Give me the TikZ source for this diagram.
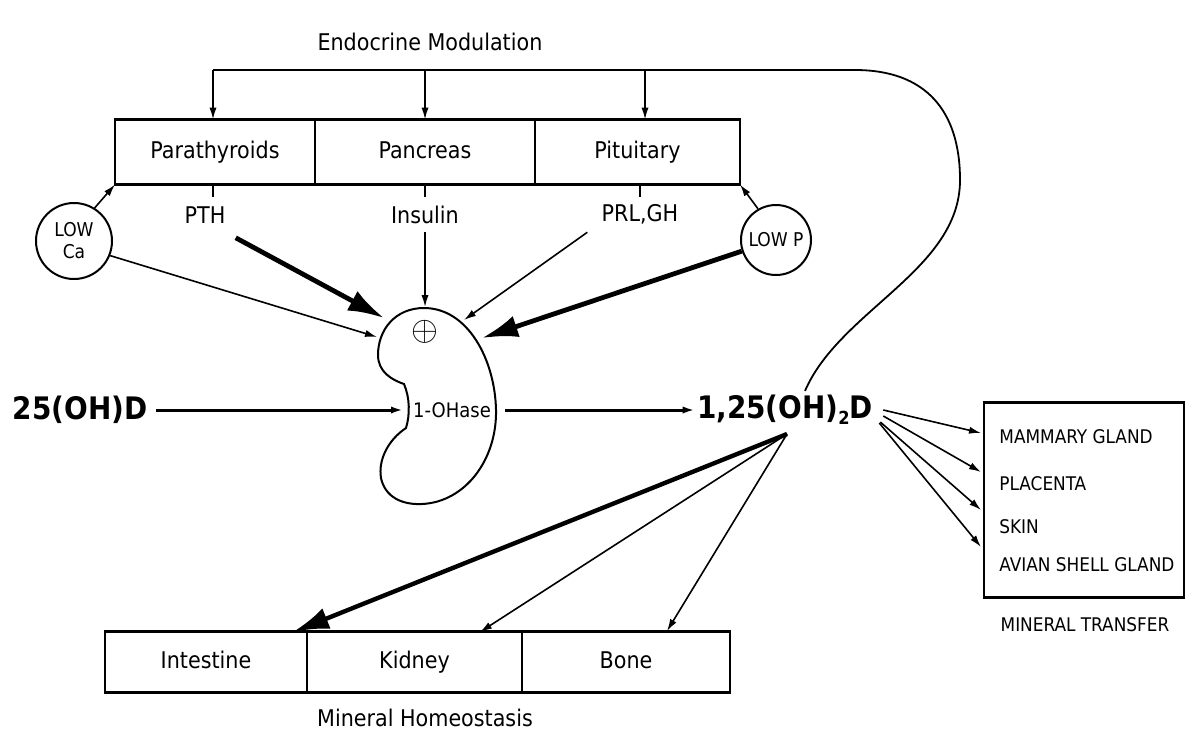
\documentclass[tikz,border=0pt]{standalone}
\usepackage{fontspec}
\setmainfont{DejaVu Sans Condensed}
\usetikzlibrary{positioning,arrows.meta}
\begin{document}
\begin{tikzpicture}[
		x=0.5pt, y=-0.5pt,
		box/.style={draw, rectangle, line width=1.4pt, outer sep=0pt, inner sep=0pt, minimum height=32.5pt, text height=8.5pt, text depth=2.5pt, font=\fontsize{11.5}{13}\selectfont},
		tag/.style={inner sep=1pt, font=\fontsize{11.5}{13}\selectfont},
		caps/.style={inner sep=1pt, anchor=west, font=\fontsize{9.4}{11}\selectfont},
		ring/.style={draw, circle, line width=1pt, inner sep=0pt, minimum size=38pt, align=center, font=\fontsize{9.5}{11}\selectfont},
		big/.style={inner sep=1pt, font=\fontsize{15.5}{18}\selectfont\bfseries},
		arrow/.style={-{Latex[length=6pt,width=3.6pt]}, line width=0.8pt},
		heavy/.style={-{Latex[length=18pt,width=11pt]}, line width=2.4pt}
		]
		\useasboundingbox (0,0) rectangle (1186,734);
		
		% endocrine row
		\node (title) [tag] at (430,42) {Endocrine Modulation};
		\node (para) [box, minimum width=100pt, anchor=west] at (115,152) {Parathyroids};
		\node (panc) [box, minimum width=110pt, right=0pt of para] {Pancreas};
		\node (pit) [box, minimum width=102.5pt, right=0pt of panc] {Pituitary};
		\node (pth) [tag] at (205,215) {PTH};
		\node (ins) [tag] at (425,215) {Insulin};
		\node (prl) [tag] at (640,214) {PRL,GH};
		\node (lowca) [ring] at (74,241) {LOW\\Ca};
		\node (lowp) [ring, minimum size=35pt] at (776,240) {LOW P};
		
		% enzyme
		\draw[line width=1pt] (424,308) .. controls (395,308) and (378,330) .. (378,355)
			.. controls (378,372) and (392,380) .. (404,384)
			.. controls (410,398) and (410,415) .. (406,428)
			.. controls (388,440) and (378,460) .. (381,478)
			.. controls (385,497) and (402,505) .. (422,504)
			.. controls (465,502) and (497,460) .. (496,410)
			.. controls (495,360) and (468,308) .. (424,308) -- cycle;
		\node (plus) [inner sep=0pt, font=\fontsize{17}{17}\selectfont] at (425,332) {$\oplus$};
		\node (ohase) [inner sep=1pt, font=\fontsize{10}{12}\selectfont] at (452,410) {1-OHase};
		\coordinate (eTop) at (425,307);
		\coordinate (eCa) at (377,337);
		\coordinate (ePth) at (384,318);
		\coordinate (ePrl) at (464,320);
		\coordinate (eP) at (482,338);
		\coordinate (eIn) at (403,410);
		\coordinate (eOut) at (505,410);
		
		\node (dpre) [big] at (80,410) {25(OH)D};
		\node (dhd) [big] at (785,410) {1,25(OH)\raisebox{-0.35ex}{\fontsize{9}{9}\selectfont 2}D};
		
		% mineral transfer
		\node (mt) [draw, rectangle, line width=1.2pt, minimum width=100pt, minimum height=97.5pt] at (1084,500) {};
		\node (mam) [caps] at (997,437) {MAMMARY GLAND};
		\node (pla) [caps] at (997,484) {PLACENTA};
		\node (skin) [caps] at (997,527) {SKIN};
		\node (avian) [caps] at (997,565) {AVIAN SHELL GLAND};
		\node (trans) [caps, anchor=center] at (1085,625) {MINERAL TRANSFER};
		\coordinate (tA) at (981,433);
		\coordinate (tB) at (981,472);
		\coordinate (tC) at (981,510);
		\coordinate (tD) at (981,547);
		
		% mineral homeostasis
		\node (int) [box, minimum width=101pt, minimum height=30.5pt, anchor=west] at (105,662) {Intestine};
		\node (kid) [box, minimum width=107.5pt, minimum height=30.5pt, right=0pt of int] {Kidney};
		\node (bone) [box, minimum width=104pt, minimum height=30.5pt, right=0pt of kid] {Bone};
		\node (homeo) [tag] at (425,718) {Mineral Homeostasis};
		\coordinate (src) at (787,434);
		\coordinate (bInt) at (293,632);
		\coordinate (bKid) at (480,632);
		\coordinate (bBone) at (667,631);
		
		% feedback loop
		\coordinate (fbA) at (213,70);
		\coordinate (fbB) at (425,70);
		\coordinate (fbC) at (645,70);
		\draw[line width=0.9pt] (dhd.north) ++(20,-2) .. controls (840,310) and (960,270) .. (960,180)
			.. controls (960,110) and (925,70) .. (855,70) -- (fbA);
		\draw[arrow] (fbA) -- (fbA |- para.north);
		\draw[arrow] (fbB) -- (fbB |- panc.north);
		\draw[arrow] (fbC) -- (fbC |- pit.north);
		
		\draw[line width=1pt] (fbA |- para.south) -- +(0,12);
		\draw[line width=1pt] (fbB |- panc.south) -- +(0,12);
		\draw[line width=1pt] (640,0 |- pit.south) -- +(0,12);
		
		\draw[arrow] (lowca.58) -- (para.south west);
		\draw[arrow] (lowp.120) -- (pit.south east);
		
		\draw[arrow] (lowca.-22) -- (eCa);
		\draw[heavy] (pth.south east) ++(8,12) -- (ePth);
		\draw[arrow] (ins.south) ++(0,6) -- (eTop);
		\draw[arrow] (prl.south west) ++(-12,6) -- (ePrl);
		\draw[heavy] (lowp.-162) -- (eP);
		
		\draw[arrow, line width=1.5pt] (dpre.east) ++(6,0) -- (eIn);
		\draw[arrow, line width=1.5pt] (eOut) -- (dhd.west);
		
		\draw[arrow] (dhd.east) ++(8,0) -- (tA);
		\draw[arrow] (dhd.east) ++(8,6) -- (tB);
		\draw[arrow] (dhd.east) ++(5,12) -- (tC);
		\draw[arrow] (dhd.east) ++(4,13) -- (tD);
		
		\draw[heavy, line width=2.2pt] (src) -- (bInt);
		\draw[arrow] (src) -- (bKid);
		\draw[arrow] (src) -- (bBone);
	\end{tikzpicture}
\end{document}
